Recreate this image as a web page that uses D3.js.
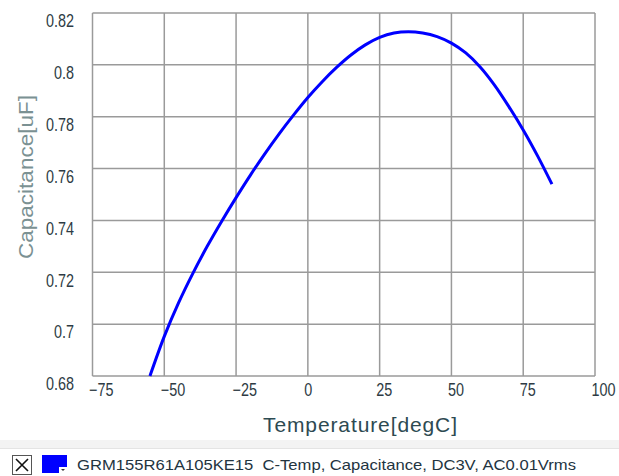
<!DOCTYPE html>
<html>
<head>
<meta charset="utf-8">
<script src="https://cdn.jsdelivr.net/npm/d3@7"></script>
<style>
  html, body { margin: 0; padding: 0; background: #fff; }
  svg { display: block; }
</style>
</head>
<body>
<svg id="chart" width="619" height="476"></svg>
<script>
// Capacitance vs temperature, GRM155R61A105KE15 (DC3V, AC0.01Vrms)
const temperature = [-55, -50, -45, -40, -35, -30, -25, -20, -15, -10, -5, 0, 5, 10, 15, 20, 25, 30, 35, 40, 45, 50, 55, 60, 65, 70, 75, 80, 85];
const capacitance = [0.6800, 0.6953, 0.7083, 0.7197, 0.7301, 0.7397, 0.7488, 0.7575, 0.7657, 0.7734, 0.7806, 0.7874, 0.7935, 0.7990, 0.8038, 0.8077, 0.8106, 0.8123, 0.8128, 0.8123, 0.8109, 0.8084, 0.8046, 0.7992, 0.7922, 0.7839, 0.7749, 0.7649, 0.7540];
const xTicks = [-75, -50, -25, 0, 25, 50, 75, 100];
const yTicks = [0.68, 0.70, 0.72, 0.74, 0.76, 0.78, 0.80, 0.82];
const xTitle = "Temperature[degC]";
const yTitle = "Capacitance[uF]";
const legendText = "GRM155R61A105KE15  C-Temp, Capacitance, DC3V, AC0.01Vrms";

const FONT = "'Liberation Sans', Arial, sans-serif";
const svg = d3.select("#chart");
const plot = { left: 92.5, right: 595, top: 13, bottom: 376 };

const x = d3.scaleLinear().domain([-75, 100]).range([plot.left, plot.right]);
const y = d3.scaleLinear().domain([0.68, 0.82]).range([plot.bottom, plot.top]);

// grid lines (the outer ones form the frame)
const grid = svg.append("g").attr("stroke", "#9a9a9a").attr("stroke-width", 1.5);
grid.selectAll("line.vx").data(xTicks).join("line")
  .attr("x1", d => x(d)).attr("x2", d => x(d))
  .attr("y1", plot.top).attr("y2", plot.bottom);
grid.selectAll("line.hy").data(yTicks).join("line")
  .attr("x1", plot.left).attr("x2", plot.right)
  .attr("y1", d => y(d)).attr("y2", d => y(d));

// y axis labels: right aligned, sitting a little below each grid line, condensed
const yAxis = d3.axisLeft(y).tickValues(yTicks).tickSize(0).tickPadding(0)
  .tickFormat(d => String(+d.toFixed(2)));
const gy = svg.append("g").attr("transform", "translate(74,8)").call(yAxis);
gy.select(".domain").remove();
gy.selectAll("text")
  .attr("font-family", FONT).attr("font-size", 18).attr("fill", "#2e3b44")
  .attr("transform", "scale(0.8,1)");

// x axis labels, condensed
const xAxis = d3.axisBottom(x).tickValues(xTicks).tickSize(0).tickPadding(0)
  .tickFormat(d => (d < 0 ? "\u2212" + Math.abs(d) : String(d)));
const gx = svg.append("g").attr("transform", `translate(0,${plot.bottom + 7})`).call(xAxis);
gx.select(".domain").remove();
gx.selectAll("text")
  .attr("font-family", FONT).attr("font-size", 18).attr("fill", "#2e3b44")
  .attr("text-anchor", "start").attr("dx", -5)
  .attr("transform", "scale(0.8,1)");

// capacitance curve
const line = d3.line()
  .x((d, i) => x(temperature[i]))
  .y(d => y(d))
  .curve(d3.curveCatmullRom.alpha(0.5));
svg.append("path").datum(capacitance)
  .attr("d", line).attr("fill", "none")
  .attr("stroke", "#0000ff").attr("stroke-width", 3).attr("stroke-linecap", "butt");

// axis titles
svg.append("text").attr("x", 263).attr("y", 432)
  .attr("font-family", FONT).attr("font-size", 21)
  .attr("fill", "#2d4a52").attr("textLength", 194).attr("lengthAdjust", "spacing")
  .text(xTitle);
svg.append("text").attr("transform", "translate(33,259) rotate(-90)")
  .attr("font-family", FONT).attr("font-size", 21)
  .attr("fill", "#7b9193").attr("textLength", 164).attr("lengthAdjust", "spacingAndGlyphs")
  .text(yTitle);

// legend strip
svg.append("rect").attr("x", 0).attr("y", 440).attr("width", 619).attr("height", 36).attr("fill", "#f3f3f3");
svg.append("line").attr("x1", 0).attr("x2", 619).attr("y1", 448.5).attr("y2", 448.5).attr("stroke", "#e4e4e4");
svg.append("rect").attr("x", 0).attr("y", 449).attr("width", 619).attr("height", 27).attr("fill", "#fff");

// visibility checkbox
svg.append("rect").attr("x", 12.5).attr("y", 455.5).attr("width", 19).attr("height", 19)
  .attr("fill", "#fff").attr("stroke", "#555");
svg.append("path").attr("d", "M16,459 L28,471 M28,459 L16,471").attr("stroke", "#111").attr("stroke-width", 1.6);

// series colour swatch with dropdown marker
svg.append("rect").attr("x", 42).attr("y", 455).attr("width", 25).attr("height", 18).attr("fill", "#0000ff");
svg.append("rect").attr("x", 59).attr("y", 467).attr("width", 8).attr("height", 6).attr("fill", "#fff");
svg.append("path").attr("d", "M61,469 L65,469 L63,471 Z").attr("fill", "#333");

svg.append("text").attr("x", 77).attr("y", 470)
  .attr("font-family", FONT).attr("font-size", 14.5)
  .attr("fill", "#23343f").attr("xml:space", "preserve")
  .attr("textLength", 499).attr("lengthAdjust", "spacingAndGlyphs")
  .text(legendText);
</script>
</body>
</html>
